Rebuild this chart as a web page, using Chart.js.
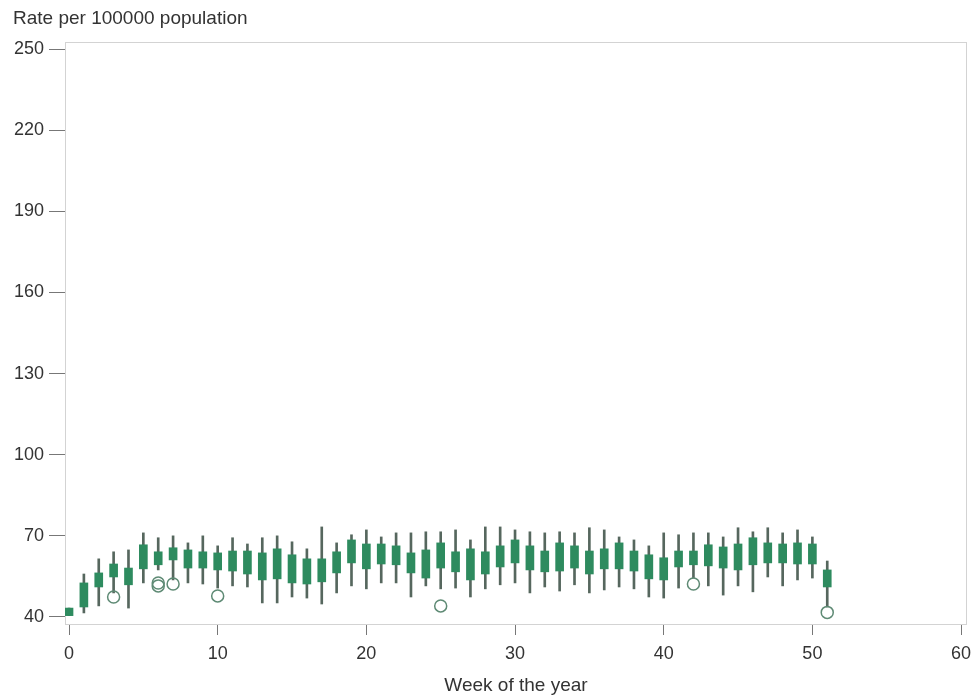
<!DOCTYPE html>
<html>
<head>
<meta charset="utf-8">
<title>Weekly rate per 100000 population</title>
<script src="https://cdn.jsdelivr.net/npm/chart.js@4.4.1/dist/chart.umd.min.js"></script>
<style>
  html, body { margin: 0; padding: 0; background: #ffffff; }
  #wrap { width: 975px; height: 698px; position: relative; }
</style>
</head>
<body>
<div id="wrap"><canvas id="chart" width="975" height="698"></canvas></div>
<script>
// Week of the year (x positions of each box)
const weeks = [0,1,2,3,4,5,6,7,8,9,10,11,12,13,14,15,16,17,18,19,20,21,22,23,24,25,
               26,27,28,29,30,31,32,33,34,35,36,37,38,39,40,41,42,43,44,45,46,47,48,49,50,51];

// Lower and upper quartiles (box edges)
const boxLow  = [40.5,43.7,51.1,54.8,51.9,57.8,59.3,61.1,58.1,58.1,57.4,57.0,55.9,53.7,54.1,52.6,52.2,53.0,56.3,60.0,
                 57.8,59.6,59.3,56.3,54.4,58.1,56.7,53.7,55.9,58.5,60.0,57.4,56.7,57.0,58.1,55.9,57.8,57.8,57.0,54.1,
                 53.7,58.5,59.3,58.9,58.1,57.4,59.3,60.0,60.0,59.6,59.6,51.1];
const boxHigh = [43.3,52.6,56.3,59.6,58.1,66.7,64.1,65.6,64.8,64.1,63.7,64.4,64.4,63.7,65.2,63.0,61.5,61.5,64.1,68.5,
                 67.0,67.0,66.3,63.7,64.8,67.4,64.1,65.2,64.1,66.3,68.5,66.3,64.4,67.4,66.3,64.4,65.2,67.4,64.4,63.0,
                 61.9,64.4,64.4,66.7,65.9,67.0,69.3,67.4,67.0,67.4,67.0,57.4];

// Whisker ends
const whiskerLow  = [40.5,41.5,44.1,48.9,43.3,52.6,57.4,53.7,52.6,52.2,50.7,51.5,51.1,45.2,45.2,47.4,47.0,44.8,48.9,51.5,
                     50.4,52.6,52.6,47.4,51.5,50.4,50.7,47.4,50.4,51.9,52.6,48.9,51.1,49.6,51.9,48.9,50.0,51.1,50.4,47.4,
                     47.0,50.7,54.4,51.5,48.1,51.5,49.3,54.8,51.5,53.7,54.4,43.7];
const whiskerHigh = [43.3,55.9,61.5,64.1,64.8,71.1,69.3,70.0,67.4,70.0,66.3,69.3,67.0,69.3,70.0,67.8,65.2,73.3,67.4,70.4,
                     72.2,69.6,71.1,71.1,71.5,71.5,72.2,68.5,73.3,73.3,72.2,71.5,71.1,71.5,71.1,73.0,72.2,69.6,68.5,66.3,
                     71.1,70.4,71.1,71.1,69.6,73.0,71.5,73.0,71.1,72.2,69.6,60.7];

// Outlying weekly rates
const outlierWeeks  = [3, 6, 6, 7, 10, 25, 42, 51];
const outlierValues = [47.4, 52.6, 51.5, 52.2, 47.8, 44.1, 52.2, 41.7];

// Axis ticks
const yTickValues = [40, 70, 100, 130, 160, 190, 220, 250];
const xTickValues = [0, 10, 20, 30, 40, 50, 60];

const TEXT = '#333333';
const FONT = 'Liberation Sans, Arial, sans-serif';

// Plot frame, headline and axis caption
const decorations = {
  id: 'decorations',
  beforeDatasetsDraw(chart) {
    const { ctx, chartArea: a } = chart;
    ctx.save();
    ctx.strokeStyle = '#d3d3d3';
    ctx.lineWidth = 1;
    ctx.strokeRect(a.left + 0.5, a.top + 0.5, a.right - a.left - 1, a.bottom - a.top);
    ctx.restore();
  },
  afterDraw(chart) {
    const { ctx, chartArea: a } = chart;
    ctx.save();
    ctx.fillStyle = TEXT;
    ctx.font = '19px ' + FONT;
    ctx.textBaseline = 'middle';
    ctx.textAlign = 'left';
    ctx.fillText('Rate per 100000 population', 13, 19);
    ctx.textAlign = 'center';
    ctx.fillText('Week of the year', (a.left + a.right) / 2, 686);
    ctx.restore();
  }
};

new Chart(document.getElementById('chart'), {
  type: 'bar',
  data: {
    datasets: [
      {
        label: 'whiskers',
        data: weeks.map((w, i) => ({ x: w, y: [whiskerLow[i], whiskerHigh[i]] })),
        backgroundColor: '#56675e',
        barThickness: 2,
        grouped: false,
        borderWidth: 0,
        order: 3
      },
      {
        label: 'interquartile range',
        data: weeks.map((w, i) => ({ x: w, y: [boxLow[i], boxHigh[i]] })),
        backgroundColor: '#2e8b5f',
        barThickness: 8,
        grouped: false,
        borderWidth: 0,
        order: 2
      },
      {
        type: 'scatter',
        label: 'outliers',
        data: outlierWeeks.map((w, i) => ({ x: w, y: outlierValues[i] })),
        pointStyle: 'circle',
        pointRadius: 6,
        borderColor: '#5e8a74',
        borderWidth: 1.5,
        backgroundColor: 'rgba(0,0,0,0)',
        order: 1
      }
    ]
  },
  options: {
    responsive: false,
    animation: false,
    devicePixelRatio: 1,
    layout: { padding: { top: 42, right: 8, left: 0, bottom: 0 } },
    plugins: { legend: { display: false }, tooltip: { enabled: false }, title: { display: false } },
    scales: {
      x: {
        type: 'linear',
        min: -0.27,
        max: 60.4,
        offset: false,
        afterBuildTicks: (axis) => { axis.ticks = xTickValues.map(v => ({ value: v })); },
        afterFit: (axis) => { axis.height = 74; axis.paddingLeft = 0; axis.paddingRight = 0; },
        grid: { offset: false, drawOnChartArea: false, drawTicks: true, tickLength: 11, color: '#777777' },
        border: { display: false },
        ticks: { color: TEXT, font: { family: FONT, size: 18 }, padding: 8, maxRotation: 0, autoSkip: false }
      },
      y: {
        type: 'linear',
        min: 37.41,
        max: 252.59,
        afterBuildTicks: (axis) => { axis.ticks = yTickValues.map(v => ({ value: v })); },
        afterFit: (axis) => { axis.width = 65; axis.paddingTop = 0; axis.paddingBottom = 0; },
        grid: { drawOnChartArea: false, drawTicks: true, tickLength: 16, color: '#777777' },
        border: { display: false },
        ticks: { color: TEXT, font: { family: FONT, size: 18 }, padding: 5, autoSkip: false }
      }
    }
  },
  plugins: [decorations]
});
</script>
</body>
</html>
